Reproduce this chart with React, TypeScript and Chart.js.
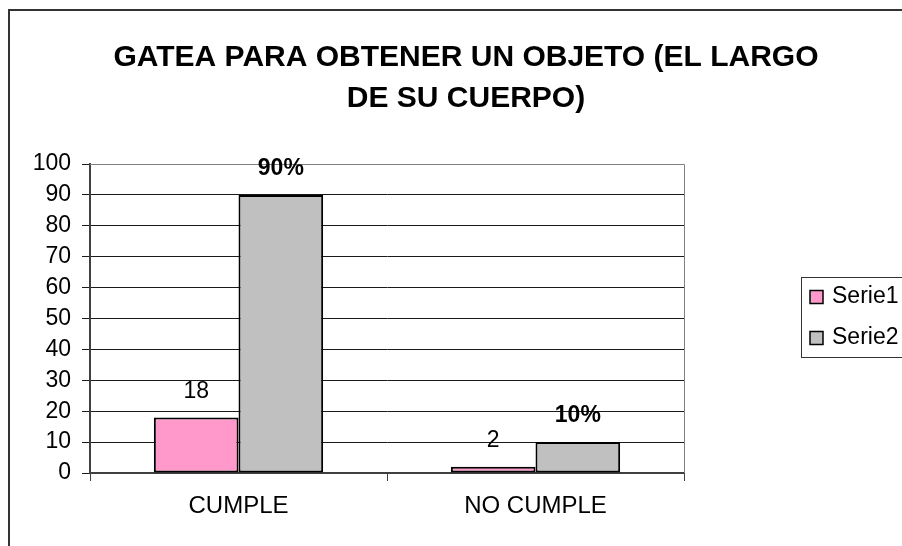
import { useEffect, useRef } from 'react';
import { Chart, registerables } from 'chart.js';

Chart.register(...registerables);

const categories = ['CUMPLE', 'NO CUMPLE'];
const serieNames = ['Serie1', 'Serie2'];
const serie1Values = [18, 2];
const serie2Values = [90, 10];
const serie1Labels = ['18', '2'];
const serie2Labels = ['90%', '10%'];
const titleLines = ['GATEA PARA OBTENER UN OBJETO (EL LARGO', 'DE SU CUERPO)'];
const yMin = 0;
const yMax = 100;
const yStep = 10;

const FONT = "'Liberation Sans', Arial, sans-serif";
const PINK = '#FF99CC';
const GRAY = '#C0C0C0';

const plotFramePlugin = {
  id: 'plotFrame',
  beforeDatasetsDraw(chart: any) {
    const { ctx, chartArea } = chart;
    const { left, top, right, bottom } = chartArea;
    ctx.save();
    ctx.strokeStyle = '#808080';
    ctx.lineWidth = 1;
    ctx.beginPath();
    ctx.moveTo(left, top + 0.5);
    ctx.lineTo(right + 0.5, top + 0.5);
    ctx.lineTo(right + 0.5, bottom);
    ctx.stroke();
    ctx.restore();
  },
};

const valueLabelsPlugin = {
  id: 'valueLabels',
  afterDatasetsDraw(chart: any) {
    const { ctx } = chart;
    const labelSets = [serie1Labels, serie2Labels];
    const fonts = [`normal 23px ${FONT}`, `bold 23px ${FONT}`];
    ctx.save();
    ctx.fillStyle = '#000';
    ctx.textAlign = 'center';
    ctx.textBaseline = 'middle';
    chart.data.datasets.forEach((_: any, di: number) => {
      const meta = chart.getDatasetMeta(di);
      ctx.font = fonts[di];
      meta.data.forEach((bar: any, i: number) => {
        ctx.fillText(labelSets[di][i], bar.x, bar.y - 26);
      });
    });
    ctx.restore();
  },
};

const legendBoxPlugin = {
  id: 'legendBox',
  afterDraw(chart: any) {
    const { ctx } = chart;
    const boxLeft = 791;
    const boxTop = 266;
    const boxHeight = 80;
    ctx.save();
    ctx.strokeStyle = '#333';
    ctx.lineWidth = 1;
    ctx.strokeRect(boxLeft + 0.5, boxTop + 0.5, 140, boxHeight);
    const colors = [PINK, GRAY];
    const rowY = [286, 327];
    ctx.font = `normal 23px ${FONT}`;
    ctx.textAlign = 'left';
    ctx.textBaseline = 'middle';
    serieNames.forEach((name, i) => {
      const y = rowY[i];
      ctx.fillStyle = colors[i];
      ctx.fillRect(800, y - 6.5, 13, 13);
      ctx.strokeStyle = '#000';
      ctx.lineWidth = 1.5;
      ctx.strokeRect(800, y - 6.5, 13, 13);
      ctx.fillStyle = '#000';
      ctx.fillText(name, 822, y);
    });
    ctx.restore();
  },
};

export default function App() {
  const canvasRef = useRef<HTMLCanvasElement | null>(null);

  useEffect(() => {
    if (!canvasRef.current) return;
    const chart = new Chart(canvasRef.current, {
      type: 'bar',
      data: {
        labels: categories,
        datasets: [
          {
            label: serieNames[0],
            data: serie1Values,
            backgroundColor: PINK,
            borderColor: '#000',
            borderWidth: 2,
            borderSkipped: false,
            barPercentage: 1,
            categoryPercentage: 0.57,
          },
          {
            label: serieNames[1],
            data: serie2Values,
            backgroundColor: GRAY,
            borderColor: '#000',
            borderWidth: 2,
            borderSkipped: false,
            barPercentage: 1,
            categoryPercentage: 0.57,
          },
        ],
      },
      options: {
        responsive: false,
        animation: false,
        layout: { padding: { left: 0, right: 0, top: 0, bottom: 38 } },
        plugins: {
          legend: { display: false },
          tooltip: { enabled: false },
          title: {
            display: true,
            text: titleLines,
            color: '#000',
            font: { family: FONT, size: 30, weight: 'bold', lineHeight: 41 / 30 },
            padding: { top: 26, bottom: 45 },
          },
        },
        scales: {
          x: {
            offset: true,
            grid: {
              offset: true,
              drawOnChartArea: false,
              drawTicks: true,
              tickLength: 8,
              color: '#404040',
              lineWidth: 1,
            },
            border: { display: true, color: '#404040', width: 2 },
            ticks: {
              color: '#000',
              padding: 11,
              font: { family: FONT, size: 24 },
            },
            afterFit(scale: any) {
              scale.height = 60;
            },
          },
          y: {
            min: yMin,
            max: yMax,
            ticks: {
              stepSize: yStep,
              color: '#000',
              padding: 11,
              font: { family: FONT, size: 23 },
            },
            grid: {
              color: '#1a1a1a',
              lineWidth: 1,
              drawTicks: true,
              tickLength: 8,
            },
            border: { display: true, color: '#404040', width: 2 },
            afterFit(scale: any) {
              scale.width = 80;
            },
          },
          yRight: {
            type: 'linear',
            position: 'right',
            display: true,
            grid: { display: false },
            ticks: { display: false },
            border: { display: false },
            afterFit(scale: any) {
              scale.width = 238;
            },
          },
        },
      },
      plugins: [plotFramePlugin, valueLabelsPlugin, legendBoxPlugin],
    } as any);
    return () => chart.destroy();
  }, []);

  return (
    <div
      style={{
        position: 'fixed',
        left: 0,
        top: 0,
        width: 902,
        height: 546,
        overflow: 'hidden',
        background: '#fff',
      }}
    >
      <div
        style={{
          position: 'absolute',
          left: 8,
          top: 9,
          width: 912,
          height: 560,
          border: '2px solid #333',
          background: '#fff',
        }}
      >
        <canvas ref={canvasRef} width={912} height={560} style={{ display: 'block' }} />
      </div>
    </div>
  );
}
